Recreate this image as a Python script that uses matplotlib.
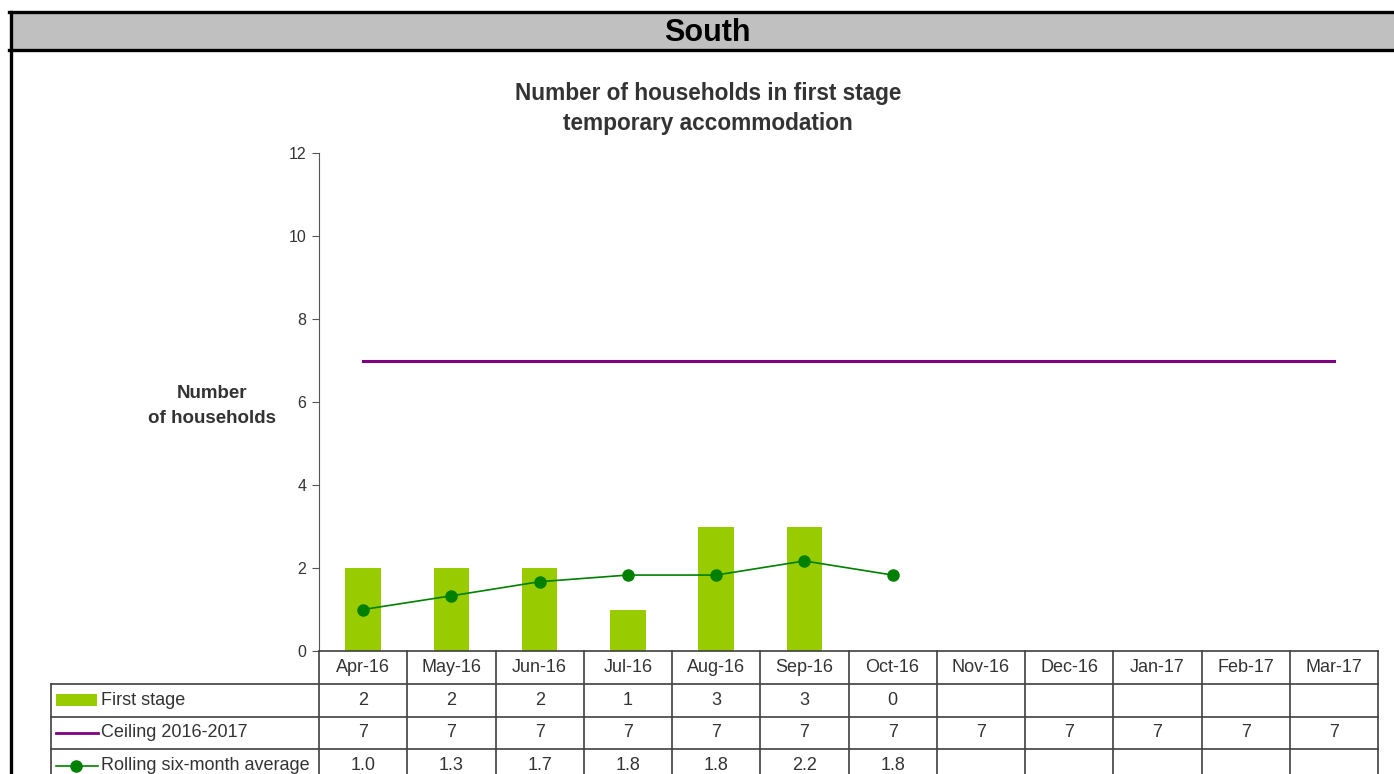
import matplotlib.pyplot as plt
from matplotlib.patches import Rectangle
from matplotlib.lines import Line2D

months = ['Apr-16', 'May-16', 'Jun-16', 'Jul-16', 'Aug-16', 'Sep-16',
          'Oct-16', 'Nov-16', 'Dec-16', 'Jan-17', 'Feb-17', 'Mar-17']
first_stage = [2, 2, 2, 1, 3, 3, 0]
ceiling = [7] * 12
rolling_avg = [1.0, 1.33, 1.67, 1.83, 1.83, 2.17, 1.83]
row_labels = ['First stage', 'Ceiling 2016-2017', 'Rolling six-month average']

plt.rcParams['font.family'] = ['Liberation Sans', 'DejaVu Sans']

W, H = 1394, 774
fig = plt.figure(figsize=(W / 100, H / 100), dpi=100)

def fx(px):
    return px / W

def fy(py):
    return 1 - py / H

# ### header band and frame
fig.add_artist(Rectangle((fx(10), fy(50)), fx(W) - fx(10), fy(12) - fy(50),
                         transform=fig.transFigure, facecolor='#c0c0c0',
                         edgecolor='none', zorder=0))
for y in (12, 50):
    fig.add_artist(Line2D([fx(9.3), 1], [fy(y), fy(y)], transform=fig.transFigure,
                          color='black', lw=2.4))
fig.add_artist(Line2D([fx(10.5), fx(10.5)], [fy(12), 0], transform=fig.transFigure,
                      color='black', lw=2.4))
fig.text(fx(707), fy(33), 'South', ha='center', va='center', fontsize=22,
         fontweight='bold', color='black')

# ### chart
text_col = '#333333'
ax_l, ax_r, ax_b, ax_t = 319, 1378, 651, 153
ax = fig.add_axes([fx(ax_l), fy(ax_b), fx(ax_r) - fx(ax_l), fy(ax_t) - fy(ax_b)])
x = list(range(len(months)))
ax.bar(x[:len(first_stage)], first_stage, width=0.4, color='#99cc00', zorder=2)
ax.plot(x, ceiling, color='#800080', lw=2.2, zorder=3)
ax.plot(x[:len(rolling_avg)], rolling_avg, color='#008000', lw=1.2,
        marker='o', markersize=8, zorder=4)
ax.set_xlim(-0.5, len(months) - 0.5)
ax.set_ylim(0, 12)
ax.set_yticks(range(0, 13, 2))
ax.set_xticks([])
for s in ('top', 'right', 'bottom'):
    ax.spines[s].set_visible(False)
ax.spines['left'].set_color('#555555')
ax.tick_params(axis='y', direction='out', length=5, color='#555555',
               labelsize=11.5, labelcolor=text_col, pad=4)
ax.patch.set_alpha(0)

fig.text(fx(708), fy(108.5), 'Number of households in first stage\ntemporary accommodation',
         ha='center', va='center', fontsize=16.3, fontweight='bold', color=text_col,
         linespacing=1.35)
fig.text(fx(212), fy(406), 'Number\nof households', ha='center', va='center',
         fontsize=13.5, fontweight='bold', color=text_col, linespacing=1.55)

# ### data table below the chart
col_px = (ax_r - ax_l) / len(months)
tab_l = 51
tax = fig.add_axes([fx(tab_l), 0, fx(ax_r) - fx(tab_l), fy(ax_b)])
x_left = -0.5 - (ax_l - tab_l) / col_px
tax.set_xlim(x_left, len(months) - 0.5)
tax.set_ylim(H - ax_b, 0)
tax.axis('off')
tax.patch.set_alpha(0)

rows = [0, 33, 65.5, 98, 131]
lc = '#404040'
lkw = dict(color=lc, lw=1.2, clip_on=False)
tax.plot([-0.5, len(months) - 0.5], [rows[0], rows[0]], **lkw)
for r in rows[1:]:
    tax.plot([x_left, len(months) - 0.5], [r, r], **lkw)
for i in range(len(months) + 1):
    tax.plot([i - 0.5, i - 0.5], [rows[0], rows[-1]], **lkw)
tax.plot([x_left, x_left], [rows[1], rows[-1]], **lkw)

tkw = dict(ha='center', va='center', fontsize=13, color=text_col)
for i, m in enumerate(months):
    tax.text(i, (rows[0] + rows[1]) / 2, m, **tkw)
table_rows = [[str(v) for v in first_stage],
              [str(v) for v in ceiling],
              [f'{v:.1f}' for v in rolling_avg]]
for r, vals in enumerate(table_rows):
    yc = (rows[r + 1] + rows[r + 2]) / 2
    for i, v in enumerate(vals):
        tax.text(i, yc, v, **tkw)

def px2x(px):
    return x_left + (px - tab_l) / col_px

for r, label in enumerate(row_labels):
    yc = (rows[r + 1] + rows[r + 2]) / 2
    tax.text(px2x(101), yc, label, ha='left', va='center', fontsize=13, color=text_col)
yc = (rows[1] + rows[2]) / 2
tax.add_patch(Rectangle((px2x(56), yc - 6), px2x(97) - px2x(56), 12,
                        facecolor='#99cc00', edgecolor='none'))
yc = (rows[2] + rows[3]) / 2
tax.plot([px2x(56), px2x(98)], [yc, yc], color='#800080', lw=2)
yc = (rows[3] + rows[4]) / 2
tax.plot([px2x(56), px2x(98)], [yc, yc], color='#008000', lw=1.2, clip_on=False)
tax.plot([px2x(76)], [yc], marker='o', color='#008000', markersize=8, clip_on=False)

fig.savefig('out.png', dpi=100)
